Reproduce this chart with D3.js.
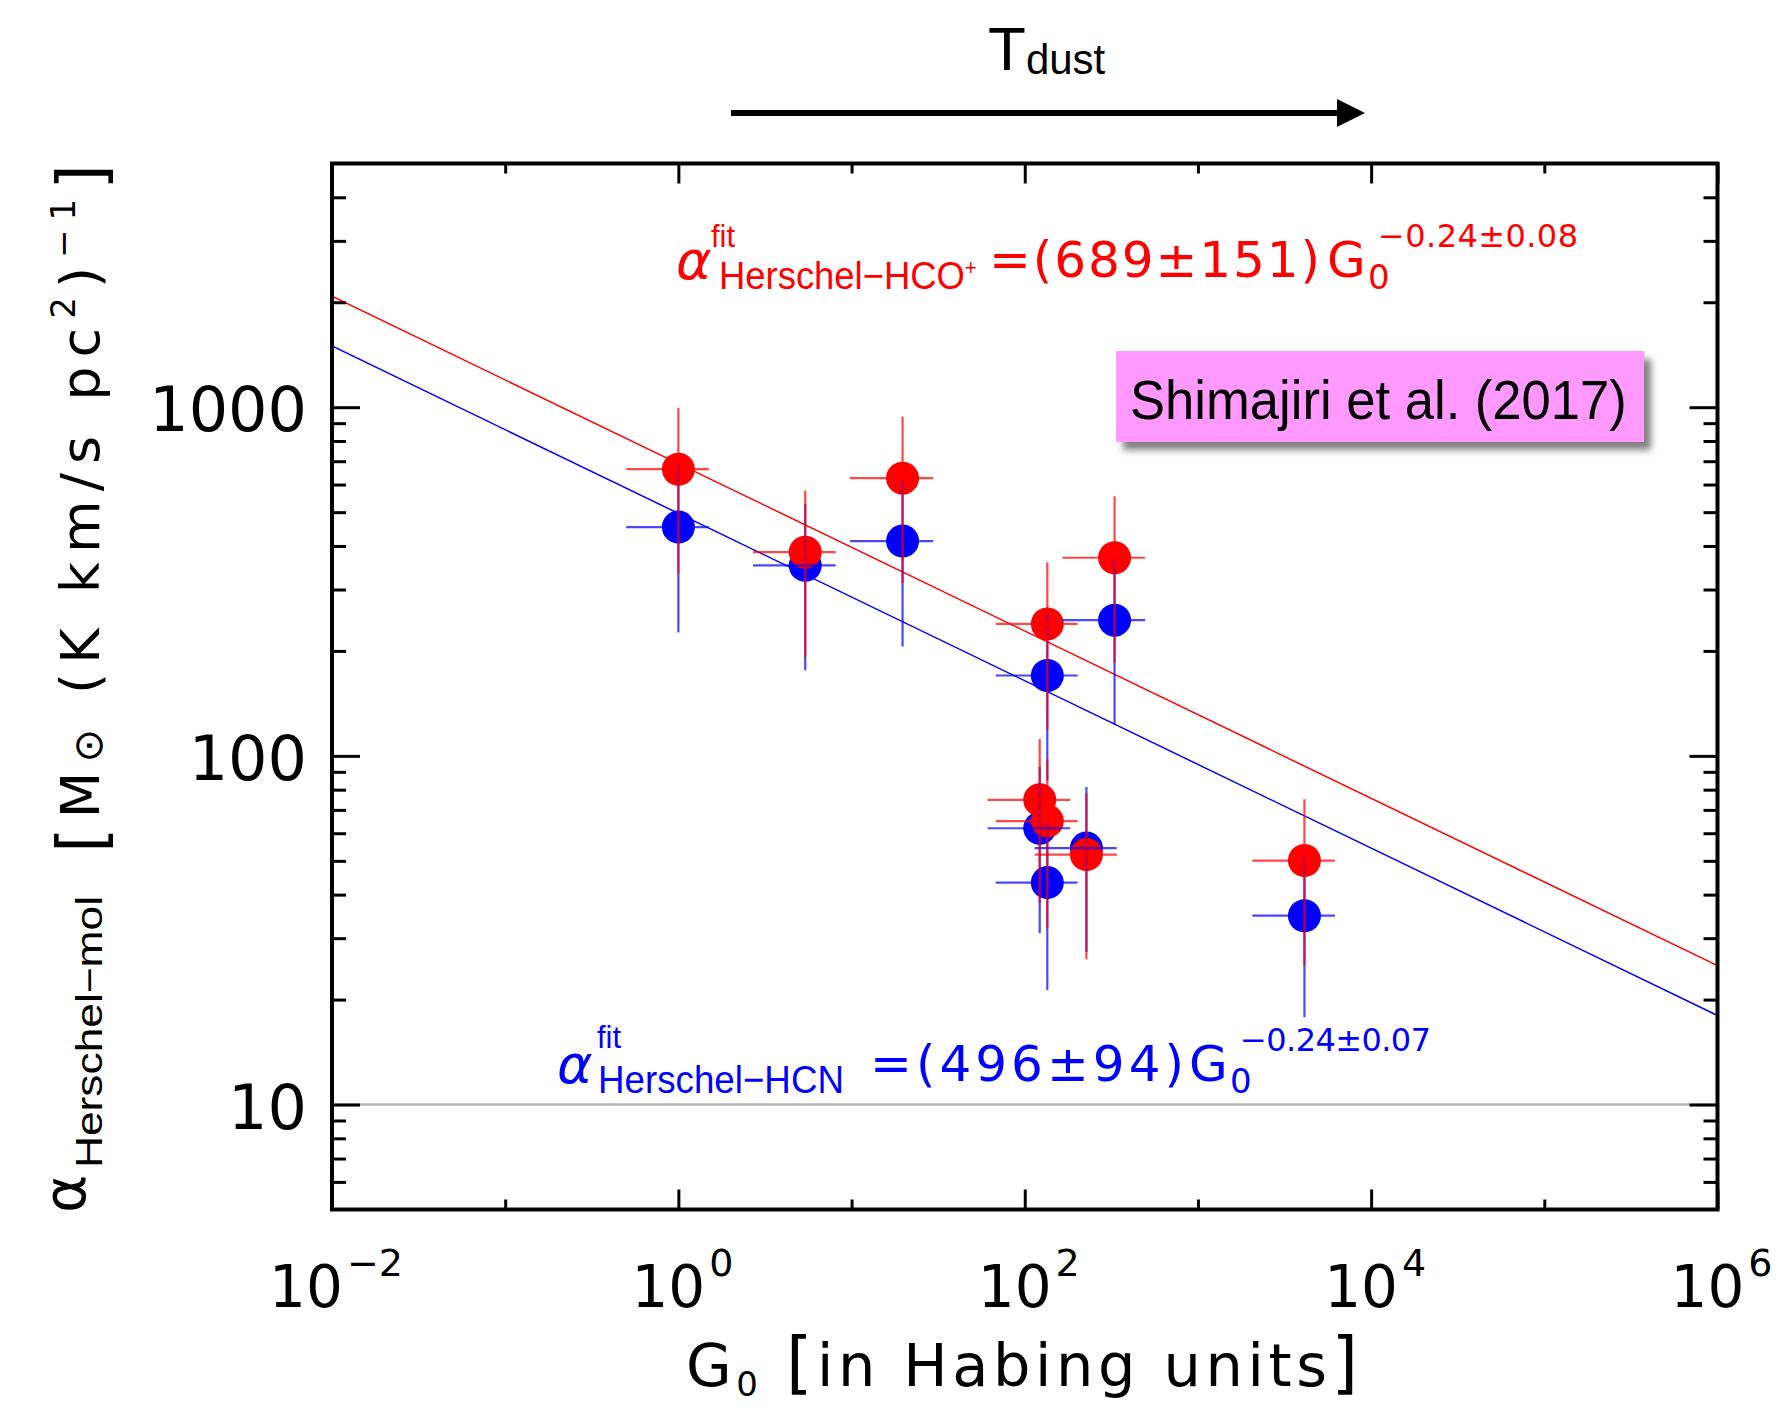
<!DOCTYPE html>
<html><head><meta charset="utf-8">
<script src="https://cdn.jsdelivr.net/npm/d3@7"></script>
<style>body{margin:0;background:#fff}svg{display:block}</style>
</head><body>
<svg id="c" width="1777" height="1408" xmlns="http://www.w3.org/2000/svg"></svg>
<script>
// ---- data ----
const G0        = [1.0, 5.4, 19.7, 135, 330, 122, 135, 227, 4120];
const G0err     = [0.5, 2.7, 9.9, 67, 165, 61, 67, 113, 2060];
const alphaHCOp    = [664, 384, 626, 239, 370, 74.8, 65.0, 52.1, 50.1];
const alphaHCOpErr = [332, 192, 313, 120, 185, 37, 33, 26, 25];
const alphaHCN     = [453, 352, 413, 170, 245, 62.0, 43.3, 54.4, 34.8];
const alphaHCNErr  = [227, 176, 207, 85, 122, 31, 22, 27, 17];
const fitNames = ["HCO+", "HCN"];
const fitNorm  = [689, 496];
const fitIndex = [-0.24, -0.24];
const xMajorTicks = [1e-2, 1e0, 1e2, 1e4, 1e6];
const xTickExp    = ["−2", "0", "2", "4", "6"];
const xMinorTicks = [1e-1, 1e1, 1e3, 1e5];
const yMajorTicks = [10, 100, 1000];
const yTickLabels = ["10", "100", "1000"];
const yMinorTicks = [6, 7, 8, 9, 20, 30, 40, 50, 60, 70, 80, 90, 200, 300, 400, 500, 600, 700, 800, 900, 2000, 3000, 4000];
const refLevel = 10;
const xDomain = [1e-2, 1e6];
const yDomain = [5, 5000];

// ---- layout ----
const X0 = 332, X1 = 1717.5, Y0 = 163.5, Y1 = 1209.5;
const HERSHEY = "'DejaVu Sans', sans-serif";
const HELV = "'Liberation Sans', Arial, sans-serif";
const RED = "#ff0000", BLUE = "#0000ff";

const svg = d3.select("#c");
const x = d3.scaleLog().domain(xDomain).range([X0, X1]);
const y = d3.scaleLog().domain(yDomain).range([Y1, Y0]);

// fit a text into a given width: compress with a transform, or widen with textLength
function fitWidth(sel, x0, target) {
  const w = sel.node().getComputedTextLength();
  if (w > target) sel.attr("x", 0).attr("transform", `translate(${x0},0) scale(${target / w},1)`);
  else sel.attr("x", x0).attr("textLength", target).attr("lengthAdjust", "spacingAndGlyphs");
}

const defs = svg.append("defs");
defs.append("clipPath").attr("id", "plotclip")
  .append("rect").attr("x", X0).attr("y", Y0).attr("width", X1 - X0).attr("height", Y1 - Y0);

// reference line at 10
svg.append("line").attr("x1", X0).attr("x2", X1).attr("y1", y(refLevel)).attr("y2", y(refLevel))
  .attr("stroke", "#b4b4b4").attr("stroke-width", 2.5);

// fit lines
const fitCol = [RED, BLUE];
const gFit = svg.append("g").attr("clip-path", "url(#plotclip)");
fitNorm.forEach((A, k) => {
  const pts = xDomain.map(g => [x(g), y(A * Math.pow(g, fitIndex[k]))]);
  gFit.append("path").attr("d", d3.line()(pts)).attr("fill", "none")
    .attr("stroke", fitCol[k]).attr("stroke-width", 1.5);
});

// markers
const idx = d3.range(G0.length);
function markers(vals, col) {
  svg.append("g").selectAll("circle").data(idx).join("circle")
    .attr("cx", i => x(G0[i])).attr("cy", i => y(vals[i])).attr("r", 16.5).attr("fill", col);
}
markers(alphaHCN, BLUE);
markers(alphaHCOp, RED);
function errbars(vals, errs, col) {
  const g = svg.append("g").attr("stroke", col).attr("stroke-width", 2.2).attr("stroke-opacity", 0.72);
  g.selectAll("line.v").data(idx).join("line").attr("class", "v")
    .attr("x1", i => x(G0[i])).attr("x2", i => x(G0[i]))
    .attr("y1", i => y(vals[i] + errs[i])).attr("y2", i => y(Math.max(vals[i] - errs[i], yDomain[0])));
  g.selectAll("line.h").data(idx).join("line").attr("class", "h")
    .attr("y1", i => y(vals[i])).attr("y2", i => y(vals[i]))
    .attr("x1", i => x(G0[i] - G0err[i])).attr("x2", i => x(G0[i] + G0err[i]));
}
errbars(alphaHCN, alphaHCNErr, BLUE);
errbars(alphaHCOp, alphaHCOpErr, RED);

// axes (ticks inward on all four sides)
function axis(gen, tr, vals, size) {
  svg.append("g").attr("transform", tr)
    .call(gen.tickValues(vals).tickSize(size).tickFormat(() => ""))
    .call(g => { g.select(".domain").remove(); g.selectAll("line").attr("stroke", "#000").attr("stroke-width", 3); });
}
axis(d3.axisBottom(x), `translate(0,${Y1})`, xMajorTicks, -20);
axis(d3.axisBottom(x), `translate(0,${Y1})`, xMinorTicks, -10);
axis(d3.axisTop(x), `translate(0,${Y0})`, xMajorTicks, -20);
axis(d3.axisTop(x), `translate(0,${Y0})`, xMinorTicks, -10);
axis(d3.axisLeft(y), `translate(${X0},0)`, yMajorTicks, -28);
axis(d3.axisLeft(y), `translate(${X0},0)`, yMinorTicks, -14);
axis(d3.axisRight(y), `translate(${X1},0)`, yMajorTicks, -28);
axis(d3.axisRight(y), `translate(${X1},0)`, yMinorTicks, -14);

svg.append("rect").attr("x", X0).attr("y", Y0).attr("width", X1 - X0).attr("height", Y1 - Y0)
  .attr("fill", "none").attr("stroke", "#000").attr("stroke-width", 4);

// tick labels
xMajorTicks.forEach((v, i) => {
  const t = svg.append("text").attr("x", x(v) + 4).attr("y", 1307).attr("text-anchor", "middle")
    .attr("font-family", HERSHEY).attr("font-size", 58).attr("fill", "#000");
  t.append("tspan").text("10");
  t.append("tspan").attr("font-size", 38).attr("dx", 4).attr("dy", -31).text(xTickExp[i]);
});
yMajorTicks.forEach((v, i) => {
  svg.append("text").attr("x", 307).attr("y", y(v) + 24).attr("text-anchor", "end")
    .attr("font-family", HERSHEY).attr("font-size", 62).attr("fill", "#000").text(yTickLabels[i]);
});

// x title
{
  const t = svg.append("text").attr("x", 686).attr("y", 1386).attr("font-family", HERSHEY)
    .attr("font-size", 59).attr("fill", "#000").attr("textLength", 672).attr("lengthAdjust", "spacing");
  t.append("tspan").text("G");
  t.append("tspan").attr("font-size", 34).attr("dy", 10).text("0");
  t.append("tspan").attr("dy", -10).text(" ");
  t.append("tspan").attr("font-size", 68).text("[");
  t.append("tspan").text("in Habing units");
  t.append("tspan").attr("font-size", 68).text("]");
}

// y title (rotated)
{
  const g = svg.append("g").attr("transform", "translate(99,0) rotate(-90)");
  g.append("text").attr("x", -1213).attr("y", -14).attr("font-family", HERSHEY).attr("font-size", 58)
    .attr("fill", "#000").text("α");
  g.append("text").attr("x", -1168).attr("y", 3).attr("font-family", HELV).attr("font-size", 37)
    .attr("fill", "#000").attr("textLength", 272).attr("lengthAdjust", "spacingAndGlyphs").text("Herschel−mol");
  const t = g.append("text").attr("x", -853).attr("y", 0).attr("font-family", HERSHEY).attr("font-size", 54)
    .attr("fill", "#000").attr("textLength", 689).attr("lengthAdjust", "spacing");
  t.append("tspan").attr("font-size", 66).attr("dy", 5).text("[");
  t.append("tspan").attr("dy", -5).text("M");
  t.append("tspan").attr("font-size", 40).attr("dy", 3).text("⊙");
  t.append("tspan").attr("dy", -3).text(" (K km/s pc");
  t.append("tspan").attr("font-size", 34).attr("dy", -24).text("2");
  t.append("tspan").attr("dy", 24).text(")");
  t.append("tspan").attr("font-size", 34).attr("dy", -24).text("−1");
  t.append("tspan").attr("font-size", 66).attr("dy", 29).text("]");
}

// fit equations
function equation(o) {
  const g = svg.append("g").attr("fill", o.col);
  g.append("text").attr("x", o.ax).attr("y", o.B + 2).attr("font-family", HERSHEY).attr("font-style", "italic")
    .attr("font-size", 54).text("α");
  g.append("text").attr("x", o.fx).attr("y", o.B - o.fitUp).attr("font-family", HELV).attr("font-size", 31).text("fit");
  const s = g.append("text").attr("y", o.B + 12).attr("font-family", HELV).attr("font-size", 39);
  s.append("tspan").text(o.sub);
  if (o.plus) s.append("tspan").attr("font-size", 22).attr("dy", -14).text("+");
  fitWidth(s, o.sx, o.sw);
  g.append("text").attr("x", o.ex).attr("y", o.B).attr("font-family", HERSHEY).attr("font-size", 50)
    .attr("textLength", o.ew).attr("lengthAdjust", "spacing").text(o.main);
  g.append("text").attr("x", o.gx).attr("y", o.B).attr("font-family", HERSHEY).attr("font-size", 50).text("G");
  g.append("text").attr("x", o.gx + 41).attr("y", o.B + 12).attr("font-family", HERSHEY).attr("font-size", 34).text("0");
  g.append("text").attr("x", o.gx + 51).attr("y", o.B - 30).attr("font-family", HERSHEY).attr("font-size", 32)
    .attr("textLength", o.pw).attr("lengthAdjust", "spacing").text(o.pow);
}
equation({col: RED, B: 277, ax: 676, fx: 711, fitUp: 30, sx: 719, sw: 258, sub: "Herschel−HCO", plus: true,
  ex: 989, ew: 331, main: "=(" + fitNorm[0] + "±151)", gx: 1327, pw: 200, pow: "−0.24±0.08"});
equation({col: BLUE, B: 1081, ax: 557, fx: 597, fitUp: 33, sx: 598, sw: 246, sub: "Herschel−HCN", plus: false,
  ex: 870, ew: 314, main: "=(" + fitNorm[1] + "±94)", gx: 1189, pw: 191, pow: "−0.24±0.07"});

// Shimajiri label with shadow
{
  const f = defs.append("filter").attr("id", "blur").attr("x", "-10%").attr("y", "-20%")
    .attr("width", "120%").attr("height", "140%");
  f.append("feGaussianBlur").attr("stdDeviation", 3.5);
  svg.append("rect").attr("x", 1123).attr("y", 359).attr("width", 528).attr("height", 91)
    .attr("fill", "#555").attr("opacity", 0.75).attr("filter", "url(#blur)");
  svg.append("rect").attr("x", 1116).attr("y", 351).attr("width", 528).attr("height", 91).attr("fill", "#ff99ff");
  const st = svg.append("text").attr("y", 419).attr("font-family", HELV).attr("font-size", 56)
    .attr("fill", "#000").text("Shimajiri et al. (2017)");
  fitWidth(st, 1130, 497);
}

// T_dust arrow
{
  const t = svg.append("text").attr("x", 988).attr("y", 70).attr("font-family", HELV).attr("font-size", 62).attr("fill", "#000");
  t.append("tspan").text("T");
  t.append("tspan").attr("font-size", 42).attr("dy", 4).text("dust");
  svg.append("line").attr("x1", 731).attr("x2", 1342).attr("y1", 113).attr("y2", 113).attr("stroke", "#000").attr("stroke-width", 6);
  svg.append("path").attr("d", "M1337,99 L1365,113 L1337,127 Z").attr("fill", "#000");
}
</script>
</body></html>
